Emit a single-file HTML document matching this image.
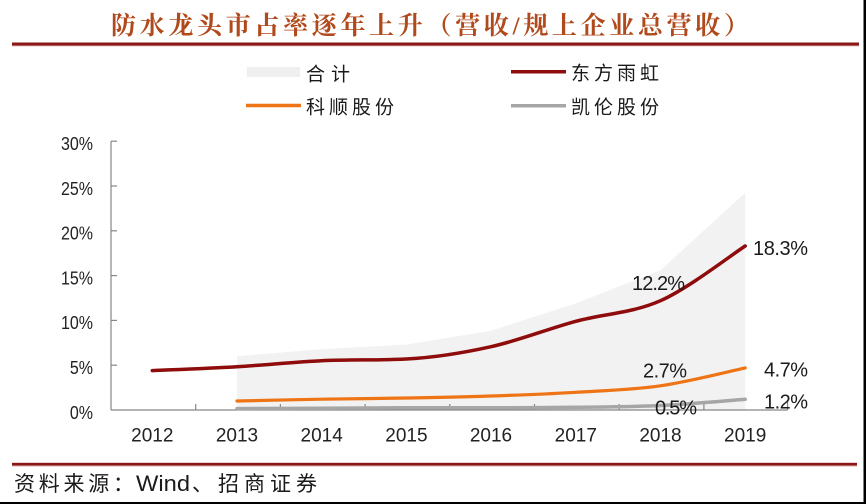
<!DOCTYPE html>
<html>
<head>
<meta charset="utf-8">
<style>
  html, body { margin:0; padding:0; background:#fff; }
  body { width:866px; height:504px; overflow:hidden; }
  svg { display:block; }
  .cjk { font-family: "Liberation Sans", "Noto Sans CJK SC", sans-serif; }
  .num { font-family: "Liberation Sans", sans-serif; }
</style>
</head>
<body>
<svg width="866" height="504" viewBox="0 0 866 504" xmlns="http://www.w3.org/2000/svg">
  <rect x="0" y="0" width="866" height="504" fill="#ffffff"/>

  <!-- Title -->
  <text x="111" y="34" font-family="'Liberation Serif','Noto Serif CJK SC',serif" font-weight="bold" font-size="25" fill="#B04A1C" textLength="638" lengthAdjust="spacing">防水龙头市占率逐年上升（营收/规上企业总营收）</text>
  <rect x="12" y="42.5" width="847" height="3" fill="#8B1818"/>
  <rect x="12" y="45.5" width="847" height="0.8" fill="#d9a0a0"/>

  <!-- Legend -->
  <rect x="247" y="67" width="53" height="10" fill="#EFEFEF"/>
  <text x="306" y="80.5" class="cjk" font-size="19" fill="#1a1a1a" textLength="44" lengthAdjust="spacing">合计</text>
  <line x1="511" y1="71.7" x2="566" y2="71.7" stroke="#8E0C0C" stroke-width="3.5"/>
  <text x="571" y="79.5" class="cjk" font-size="19" fill="#1a1a1a" textLength="88" lengthAdjust="spacing">东方雨虹</text>
  <line x1="246" y1="105.5" x2="301" y2="105.5" stroke="#EE7416" stroke-width="3.5"/>
  <text x="306" y="113.5" class="cjk" font-size="19" fill="#1a1a1a" textLength="88" lengthAdjust="spacing">科顺股份</text>
  <line x1="511" y1="105.7" x2="566" y2="105.7" stroke="#A6A6A6" stroke-width="3.5"/>
  <text x="571" y="113.5" class="cjk" font-size="19" fill="#1a1a1a" textLength="88" lengthAdjust="spacing">凯伦股份</text>

  <!-- Area 合计 -->
  <polygon points="237,410 237,356.2 321.7,349.1 406.4,344.6 491,330.7 575.8,303.4 660.5,270.2 745.2,192.7 745.2,410" fill="#F2F2F2"/>

  <!-- Axes -->
  <g stroke="#868686" stroke-width="1.2" fill="none">
    <line x1="111" y1="141.2" x2="111" y2="410"/>
    <line x1="111" y1="410" x2="787.6" y2="410"/>
    <line x1="111" y1="141.2" x2="117" y2="141.2"/>
    <line x1="111" y1="186" x2="117" y2="186"/>
    <line x1="111" y1="230.8" x2="117" y2="230.8"/>
    <line x1="111" y1="275.6" x2="117" y2="275.6"/>
    <line x1="111" y1="320.4" x2="117" y2="320.4"/>
    <line x1="111" y1="365.2" x2="117" y2="365.2"/>
    <line x1="195.7" y1="404" x2="195.7" y2="410"/>
    <line x1="280.4" y1="404" x2="280.4" y2="410"/>
    <line x1="365.1" y1="404" x2="365.1" y2="410"/>
    <line x1="449.8" y1="404" x2="449.8" y2="410"/>
    <line x1="534.5" y1="404" x2="534.5" y2="410"/>
    <line x1="619.2" y1="404" x2="619.2" y2="410"/>
    <line x1="703.9" y1="404" x2="703.9" y2="410"/>
    <line x1="787.6" y1="400" x2="787.6" y2="410"/>
  </g>

  <!-- Y labels -->
  <g class="num" font-size="16" fill="#222" text-anchor="end">
    <text transform="translate(93,150) scale(1,1.17)">30%</text>
    <text transform="translate(93,194.8) scale(1,1.17)">25%</text>
    <text transform="translate(93,239.6) scale(1,1.17)">20%</text>
    <text transform="translate(93,284.4) scale(1,1.17)">15%</text>
    <text transform="translate(93,329.2) scale(1,1.17)">10%</text>
    <text transform="translate(93,374) scale(1,1.17)">5%</text>
    <text transform="translate(93,418.8) scale(1,1.17)">0%</text>
  </g>

  <!-- X labels -->
  <g class="num" font-size="19" fill="#222" text-anchor="middle">
    <text x="152.3" y="441.5">2012</text>
    <text x="237" y="441.5">2013</text>
    <text x="321.7" y="441.5">2014</text>
    <text x="406.4" y="441.5">2015</text>
    <text x="491" y="441.5">2016</text>
    <text x="575.8" y="441.5">2017</text>
    <text x="660.5" y="441.5">2018</text>
    <text x="745.2" y="441.5">2019</text>
  </g>

  <!-- Series -->
  <path d="M237,408.65 C251.12,408.6 293.47,408.35 321.7,408.2 C349.93,408.05 378.17,407.9 406.4,407.76 C434.63,407.6 462.77,407.8 491,407.76 C519.23,407.7 547.57,407.6 575.8,407.3 C604.03,406.92 632.27,406.84 660.5,405.5 C688.73,404.16 731.08,400.29 745.2,399.25" fill="none" stroke="#A6A6A6" stroke-width="3.5" stroke-linecap="round"/>
  <path d="M237,401 C251.12,400.7 293.47,399.7 321.7,399.2 C349.93,398.7 378.17,398.53 406.4,398 C434.63,397.47 462.77,396.95 491,396 C519.23,395.05 547.57,394 575.8,392.3 C604.03,390.6 632.27,389.87 660.5,385.8 C688.73,381.73 731.08,370.88 745.2,367.9" fill="none" stroke="#EE7416" stroke-width="3.2" stroke-linecap="round"/>
  <path d="M152.3,370.6 C166.42,369.95 208.77,368.35 237,366.7 C265.23,365.05 293.47,361.98 321.7,360.7 C349.93,359.42 378.17,360.4 406.4,359 C434.63,357.6 462.77,352.98 491,346.7 C519.23,340.42 547.57,328.97 575.8,321.3 C604.03,313.63 632.27,313.25 660.5,300.7 C688.73,288.15 731.08,255.12 745.2,246" fill="none" stroke="#8E0C0C" stroke-width="3.5" stroke-linecap="round"/>

  <!-- Data labels -->
  <g class="num" font-size="20" fill="#1a1a1a">
    <text x="632" y="290" textLength="53" lengthAdjust="spacing">12.2%</text>
    <text x="753" y="255" textLength="55" lengthAdjust="spacing">18.3%</text>
    <text x="643" y="377.5" textLength="44" lengthAdjust="spacing">2.7%</text>
    <text x="764" y="376.7" textLength="44" lengthAdjust="spacing">4.7%</text>
    <text x="655" y="414.3" textLength="42" lengthAdjust="spacing">0.5%</text>
    <text x="764" y="408.3" textLength="44" lengthAdjust="spacing">1.2%</text>
  </g>

  <!-- Footer -->
  <rect x="12" y="462.8" width="845" height="2.8" fill="#8B1818"/>
  <rect x="12" y="465.6" width="845" height="0.8" fill="#d9a0a0"/>
  <text x="14" y="491" class="cjk" font-size="21" fill="#1a1a1a" textLength="120" lengthAdjust="spacing">资料来源：</text>
  <text x="136" y="491" class="num" font-size="22" fill="#1a1a1a" textLength="54" lengthAdjust="spacingAndGlyphs">Wind</text>
  <text x="192" y="491" class="cjk" font-size="21" fill="#1a1a1a" textLength="125" lengthAdjust="spacing">、招商证券</text>

  <!-- Border right/bottom -->
  <rect x="863.5" y="0" width="2.5" height="504" fill="#000"/>
  <rect x="0" y="502" width="866" height="2" fill="#000"/>
</svg>
</body>
</html>
